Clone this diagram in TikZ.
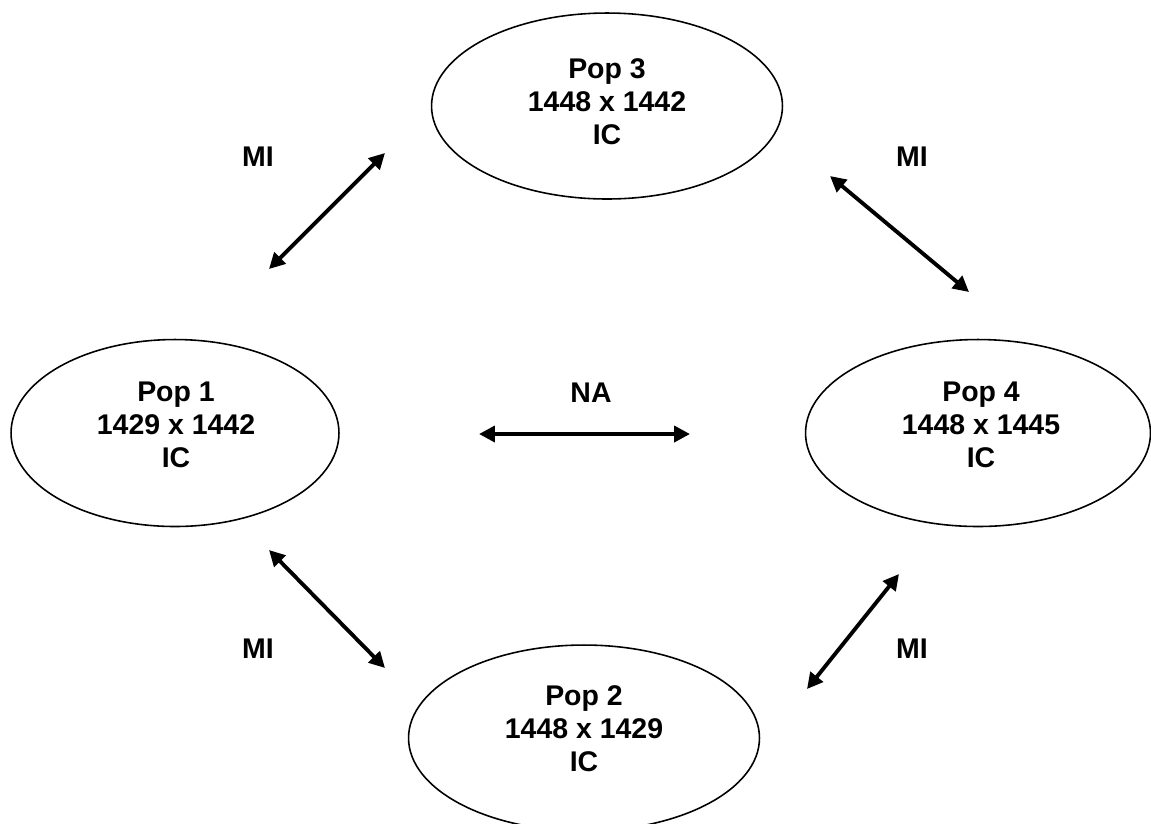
\documentclass[tikz,border=0pt]{standalone}
\usepackage{fontspec}
\setmainfont{Liberation Sans}
\usetikzlibrary{shapes.geometric,arrows.meta}

\begin{document}
\begin{tikzpicture}[x=0.02cm, y=-0.02cm,
        popbox/.style={draw, ellipse, line width=0.9pt, inner sep=0pt},
        poptext/.style={align=center, font=\fontsize{16.2}{18.8}\selectfont\bfseries},
        flowlbl/.style={font=\fontsize{16.2}{18.8}\selectfont\bfseries},
        flow/.style={{Triangle[length=9pt,width=9pt]}-{Triangle[length=9pt,width=9pt]}, line width=2.2pt}]
            \path[use as bounding box, clip] (0,0) rectangle (1151,823);
            \node[popbox, minimum width=7.02cm, minimum height=3.72cm] (pop3) at (607,106) {};
            \node[popbox, minimum width=6.56cm, minimum height=3.74cm] (pop1) at (175,433) {};
            \node[popbox, minimum width=6.90cm, minimum height=3.74cm] (pop4) at (978,433) {};
            \node[popbox, minimum width=7.02cm, minimum height=3.72cm] (pop2) at (584,738) {};
            \node[poptext] (pop3txt) at (607,102) {Pop 3\\1448 x 1442\\IC};
            \node[poptext] (pop1txt) at (176,425) {Pop 1\\1429 x 1442\\IC};
            \node[poptext] (pop4txt) at (981,425) {Pop 4\\1448 x 1445\\IC};
            \node[poptext] (pop2txt) at (584,729) {Pop 2\\1448 x 1429\\IC};
            \coordinate (a13) at (269,269);  \coordinate (b13) at (385,153);
            \coordinate (a34) at (830,176);  \coordinate (b34) at (969,292);
            \coordinate (a14) at (479,434);  \coordinate (b14) at (690,434);
            \coordinate (a12) at (269,550);  \coordinate (b12) at (385,668);
            \coordinate (a24) at (807,689);  \coordinate (b24) at (899,574);
            \draw[flow] (a13) -- (b13);
            \draw[flow] (a34) -- (b34);
            \draw[flow] (a14) -- (b14);
            \draw[flow] (a12) -- (b12);
            \draw[flow] (a24) -- (b24);
            \node[flowlbl] (mi13) at (258,157) {MI};
            \node[flowlbl] (mi34) at (912,157) {MI};
            \node[flowlbl] (na14) at (591,393) {NA};
            \node[flowlbl] (mi12) at (258,649) {MI};
            \node[flowlbl] (mi24) at (912,649) {MI};
        \end{tikzpicture}
\end{document}
